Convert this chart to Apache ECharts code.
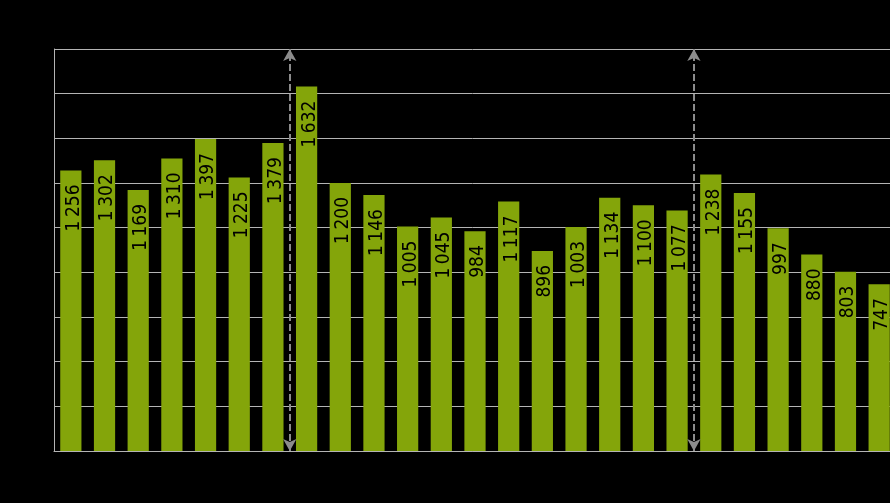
<!DOCTYPE html>
<html><head><meta charset="utf-8">
<script src="https://cdn.jsdelivr.net/npm/echarts@6/dist/echarts.min.js"></script>
<style>html,body{margin:0;padding:0;background:#000;}#c{width:890px;height:503px;}</style>
</head><body><div id="c"></div>
<script>
const categories = ['1','2','3','4','5','6','7','8','9','10','11','12','13','14','15','16','17','18','19','20','21','22','23','24','25'];
const values = [1256,1302,1169,1310,1397,1225,1379,1632,1200,1146,1005,1045,984,1117,896,1003,1134,1100,1077,1238,1155,997,880,803,747];
const markerPositions = [7, 19];
const yMax = 1800, yStep = 200;

const chart = echarts.init(document.getElementById('c'));
chart.setOption({
  backgroundColor: '#000',
  animation: false,
  grid: {left: 54, width: 842, top: 49, bottom: 52, containLabel: false, outerBoundsMode: 'none'},
  xAxis: [
    {type: 'category', data: categories,
     axisLine: {show: true, lineStyle: {color: '#b4b4b4', width: 1}},
     axisTick: {show: false}, axisLabel: {show: false}},
    {type: 'value', min: 0, max: categories.length, show: false}
  ],
  yAxis: {type: 'value', min: 0, max: yMax, interval: yStep,
    axisLine: {show: true, lineStyle: {color: '#b4b4b4', width: 1}},
    axisTick: {show: false}, axisLabel: {show: false},
    splitLine: {show: true, lineStyle: {color: '#b4b4b4', width: 1}}},
  series: [
    {type: 'bar', data: values, barCategoryGap: '37%',
     itemStyle: {color: '#84a50a'},
     label: {show: true, position: 'insideTop', rotate: 90, align: 'right', verticalAlign: 'middle',
       distance: 14, offset: [0, 3], color: '#000', fontFamily: 'DejaVu Sans Condensed', fontSize: 19,
       formatter: p => { const s = String(p.value); return s.length > 3 ? s.slice(0, s.length-3) + '\u2009' + s.slice(-3) : s; }}},
    {type: 'line', xAxisIndex: 1, data: [], silent: true,
     markLine: {silent: true, symbol: ['arrow','arrow'], symbolSize: [10, 12],
       label: {show: false},
       lineStyle: {color: '#8c8c8c', type: [7, 3], width: 2},
       data: markerPositions.map(v => ({xAxis: v}))}}
  ]
});
</script></body></html>
